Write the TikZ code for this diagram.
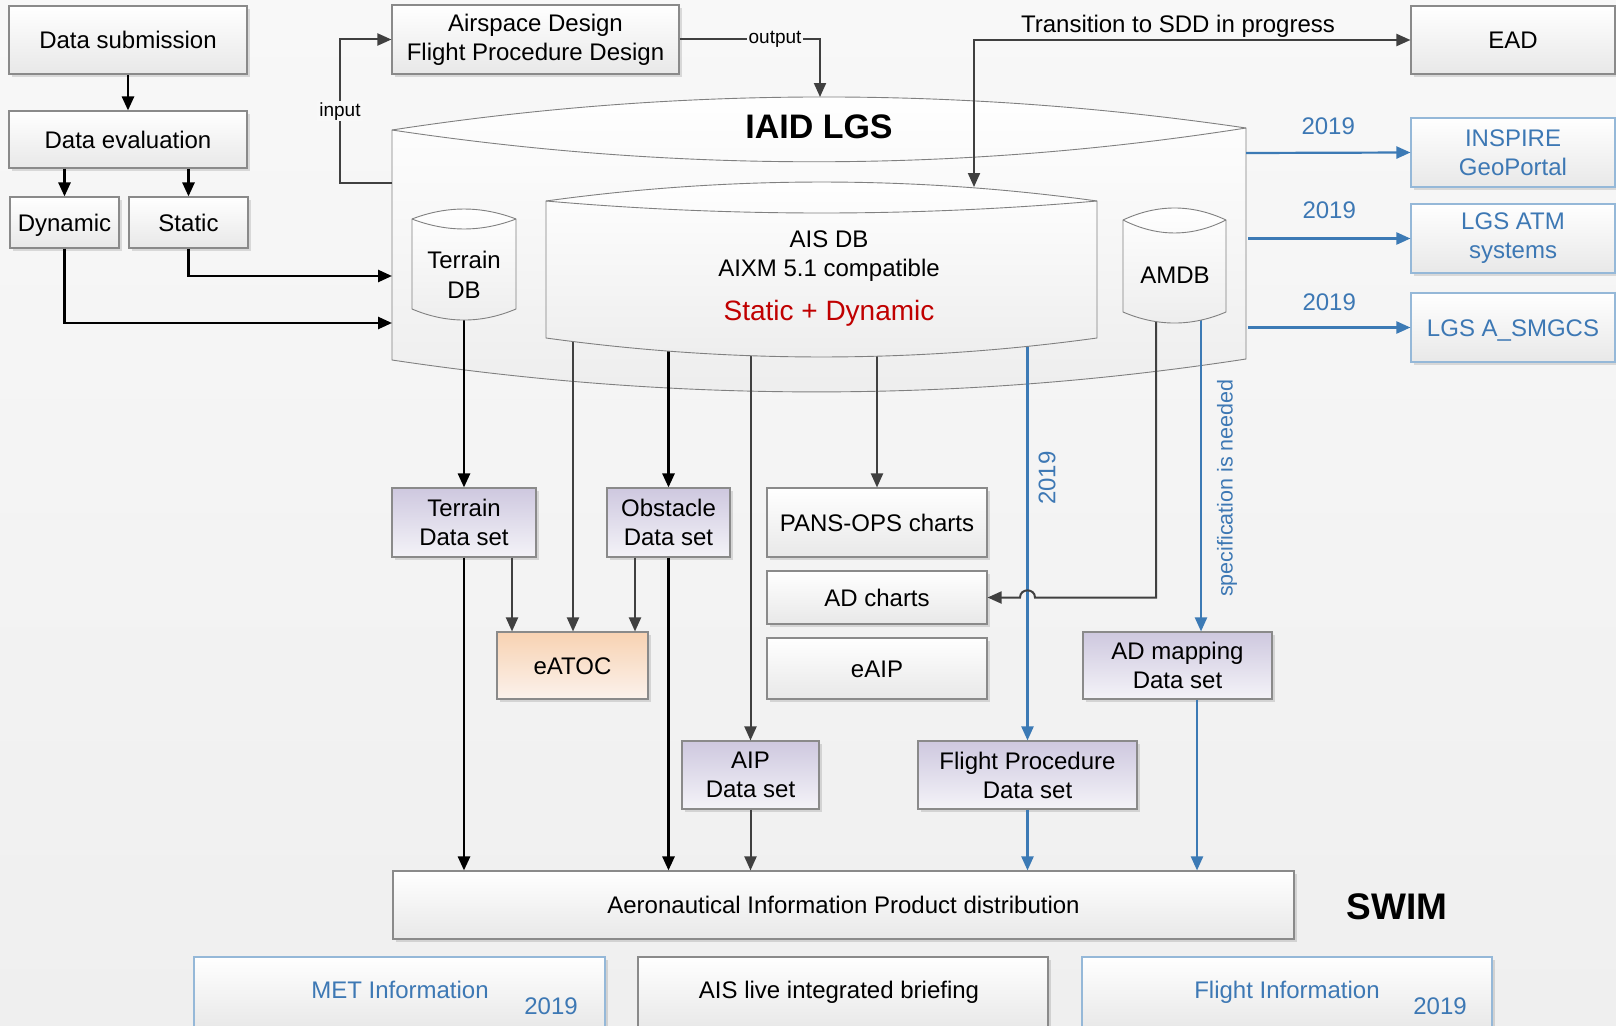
\documentclass[tikz,border=0pt]{standalone}
\usepackage{fontspec}
\setmainfont{Liberation Sans}
\usetikzlibrary{arrows.meta,shadows}
\definecolor{bgtop}{HTML}{F8F8F8}
\definecolor{bgbot}{HTML}{EFEFEF}
\definecolor{boxgray}{HTML}{8A8A8A}
\definecolor{boxbot}{HTML}{E8E8E8}
\definecolor{outl}{HTML}{808080}
\definecolor{lgsbot}{HTML}{EDEDED}
\definecolor{purtop}{HTML}{CEC8DF}
\definecolor{purbot}{HTML}{F4F3F8}
\definecolor{orgtop}{HTML}{F8D2B2}
\definecolor{orgbot}{HTML}{FBF2EC}
\definecolor{bluetxt}{HTML}{3D78B4}
\definecolor{bluebord}{HTML}{95B8D8}
\definecolor{bluearr}{HTML}{3C7AB5}
\definecolor{darkarr}{HTML}{404040}
\definecolor{redtxt}{HTML}{C00000}
\begin{document}
\begin{tikzpicture}[x=1pt,y=-1pt,
  >={Triangle[length=14pt,width=12pt]},
  every node/.style={font=\fontsize{24}{29}\selectfont, align=center, inner sep=0pt},
  sl/.style={text height=17.3pt, text depth=0pt},
  shdw/.style={drop shadow={shadow xshift=3pt, shadow yshift=-3pt, fill=black, opacity=0.12}},
  box/.style={draw=boxgray, line width=1.1pt, top color=white, bottom color=boxbot, shdw},
  pbox/.style={box, top color=purtop, bottom color=purbot},
  obox/.style={box, top color=orgtop, bottom color=orgbot},
  bbox/.style={box, draw=bluebord, text=bluetxt},
  blk/.style={draw=black, line width=2.6pt, ->},
  dk/.style={draw=darkarr, line width=2pt, ->},
  blu/.style={draw=bluearr, line width=2.2pt, ->},
  lbl/.style={font=\fontsize{19}{22}\selectfont, fill=bgtop, inner xsep=2pt, inner ysep=1pt},
  dbshape/.style={draw=outl, line width=0.9pt, top color=white, bottom color=lgsbot}
]
\useasboundingbox (0,0) rectangle (1616,1025);
\fill[top color=bgtop, bottom color=bgbot] (0,0) rectangle (1616,1025);

% IAID LGS container
\path[dbshape]
 (392,130) .. controls (676.7,86.3) and (961.3,86.3) .. (1246,128) -- (1246,359)
 .. controls (961.3,402.7) and (676.7,402.7) .. (392,360) -- cycle;
\draw[outl, line width=0.9pt] (392,130) .. controls (676.7,172.7) and (961.3,172.7) .. (1246,128);
\node[font=\bfseries\fontsize{34}{40}\selectfont] (lgs) at (819,127) {IAID LGS};
\coordinate (lgsStat) at (392,276);
\coordinate (lgsDyn) at (392,323);
\coordinate (lgsIn) at (392,183);
\coordinate (lgsTop) at (820,97);
\coordinate (lgsR1) at (1246,153);
\coordinate (lgsR2) at (1248,238.5);
\coordinate (lgsR3) at (1248,327.5);

% boxes
\node[box, sl, minimum width=238, minimum height=68] (sub) at (128,40) {Data submission};
\node[box, sl, minimum width=238, minimum height=57] (eval) at (128,139.5) {Data evaluation};
\node[box, sl, minimum width=109, minimum height=51] (dyn) at (64.5,222.5) {Dynamic};
\node[box, sl, minimum width=119, minimum height=51] (stat) at (188.5,222.5) {Static};
\node[box, minimum width=287, minimum height=69] (asd) at (535.5,39.5) {Airspace Design\\Flight Procedure Design};
\node[box, sl, minimum width=204, minimum height=68] (ead) at (1513,40) {EAD};
\node[bbox, minimum width=204, minimum height=69] (inspire) at (1513,152.5) {INSPIRE\\GeoPortal};
\node[bbox, minimum width=204, minimum height=69] (atm) at (1513,238.5) {LGS ATM\\systems};
\node[bbox, sl, minimum width=204, minimum height=69] (smgcs) at (1513,327.5) {LGS A\_SMGCS};
\node[pbox, minimum width=144, minimum height=69] (tds) at (464,522.5) {Terrain\\Data set};
\node[pbox, minimum width=123, minimum height=69] (ods) at (668.5,522.5) {Obstacle\\Data set};
\node[obox, sl, minimum width=151, minimum height=67] (eatoc) at (572.5,665.5) {eATOC};
\node[box, sl, minimum width=220, minimum height=69] (pans) at (877,522.5) {PANS-OPS charts};
\node[box, sl, minimum width=220, minimum height=53] (adc) at (877,597.5) {AD charts};
\node[box, sl, minimum width=220, minimum height=61] (eaip) at (877,668.5) {eAIP};
\node[pbox, minimum width=137, minimum height=68] (aip) at (750.5,775) {AIP\\Data set};
\node[pbox, minimum width=219, minimum height=68] (fpd) at (1027.5,775) {Flight Procedure\\Data set};
\node[pbox, minimum width=189, minimum height=67] (adm) at (1177.5,665.5) {AD mapping\\Data set};
\node[box, sl, minimum width=901, minimum height=68] (apd) at (843.5,905) {Aeronautical Information Product distribution};
\node[font=\bfseries\fontsize{37}{44}\selectfont] (swim) at (1397,907) {SWIM};
\node[bbox, minimum width=411, minimum height=72] (met) at (399.5,993) {};
\node[sl, text=bluetxt] (mett) at (400,990) {MET Information};
\node[sl, text=bluetxt] (mety) at (551,1006) {2019};
\node[box, minimum width=410, minimum height=72] (live) at (843,993) {};
\node[sl] (livet) at (839,990) {AIS live integrated briefing};
\node[bbox, minimum width=410, minimum height=72] (fi) at (1287,993) {};
\node[sl, text=bluetxt] (fit) at (1287,990) {Flight Information};
\node[sl, text=bluetxt] (fiy) at (1440,1006) {2019};

% left connectors
\draw[blk] (sub) -- (eval);
\draw[blk] (eval.south -| dyn.north) -- (dyn.north);
\draw[blk] (eval.south -| stat.north) -- (stat.north);
\draw[blk] (stat.south) |- (lgsStat);
\draw[blk] (dyn.south) |- (lgsDyn);
\draw[dk] (lgsIn) -- ++(-52,0) |- (asd.west) node[lbl, pos=0.25] (inlbl) {input};
\draw[dk] (asd.east) -| (lgsTop) node[lbl, pos=0.34] (outlbl) {output};

% right blue connectors
\draw[blu] (lgsR1) -- (inspire.west) node[midway, yshift=27pt, text=bluetxt] (y1) {2019};
\draw[blu] (lgsR2) -- (atm.west) node[midway, yshift=28pt, text=bluetxt] (y2) {2019};
\draw[blu] (lgsR3) -- (smgcs.west) node[midway, yshift=25pt, text=bluetxt] (y3) {2019};

% database connectors
\coordinate (xa) at (512,0);
\coordinate (xb) at (635,0);
\coordinate (xc) at (1197,0);
\coordinate (tdbB) at (464,300);
\coordinate (aisE) at (573,330);
\coordinate (aisO) at (668.5,330);
\coordinate (aisA) at (750.5,330);
\coordinate (aisP) at (877,330);
\coordinate (aisF) at (1027.5,330);
\coordinate (amB) at (1156,300);
\coordinate (amC) at (1201,300);
\coordinate (amK) at (1156,597.5);
\coordinate (hopR) at (1035,597.5);
\coordinate (hopL) at (1020,597.5);

\draw[blk] (tdbB) -- (tds.north);
\draw[blk] (tds.south) -- (tds.south |- apd.north);
\draw[dk] (tds.south -| xa) -- (eatoc.north -| xa);
\draw[dk] (aisE) -- (eatoc.north -| aisE);
\draw[dk] (ods.south -| xb) -- (eatoc.north -| xb);
\draw[blk] (aisO) -- (ods.north);
\draw[blk] (ods.south) -- (ods.south |- apd.north);
\draw[dk] (aisA) -- (aip.north);
\draw[dk] (aip.south) -- (aip.south |- apd.north);
\draw[dk] (aisP) -- (pans.north);
\draw[blu] (aisF) -- (fpd.north);
\node[rotate=90, text=bluetxt] (y2019v) at (1047,478) {2019};
\draw[blu] (fpd.south) -- (fpd.south |- apd.north);
\draw[dk] (amB) -- (amK) -- (hopR) .. controls (1035,588) and (1020,588) .. (hopL) -- (adc.east);
\draw[blu] (amC) -- (adm.north -| amC);
\node[rotate=90, text=bluetxt, font=\fontsize{21.5}{25}\selectfont] (spec) at (1227,488) {specification is needed};
\draw[blu] (adm.south -| xc) -- (apd.north -| xc);

% AIS DB
\path[dbshape]
 (546,201) .. controls (729.7,175.7) and (913.3,175.7) .. (1097,201) -- (1097,338)
 .. controls (913.3,363.3) and (729.7,363.3) .. (546,338) -- cycle;
\draw[outl, line width=0.9pt] (546,201) .. controls (729.7,217) and (913.3,217) .. (1097,201);
\node (aisdb) at (829,256.5) {AIS DB\\AIXM 5.1 compatible};
\node[text=redtxt, font=\fontsize{28}{32}\selectfont] (stdyn) at (829,313) {Static + Dynamic};

% Terrain DB
\path[dbshape]
 (412,219) .. controls (446.7,205.7) and (481.3,205.7) .. (516,219) -- (516,309)
 .. controls (481.3,323.7) and (446.7,323.7) .. (412,309) -- cycle;
\draw[outl, line width=0.9pt] (412,219) .. controls (446.7,232.3) and (481.3,232.3) .. (516,219);
\node[font=\fontsize{24}{30}\selectfont] (tdb) at (464,275) {Terrain\\DB};

% AMDB
\path[dbshape]
 (1123,220) .. controls (1157.3,204) and (1191.7,204) .. (1226,220) -- (1226,312)
 .. controls (1191.7,326.7) and (1157.3,326.7) .. (1123,312) -- cycle;
\draw[outl, line width=0.9pt] (1123,220) .. controls (1157.3,237.3) and (1191.7,237.3) .. (1226,220);
\node[sl] (amdb) at (1175,275) {AMDB};

% transition
\coordinate (aisTop) at (974,187);
\draw[dk, <->] (aisTop) |- (ead.west);
\node[sl] (trans) at (1178,24) {Transition to SDD in progress};
\end{tikzpicture}
\end{document}
